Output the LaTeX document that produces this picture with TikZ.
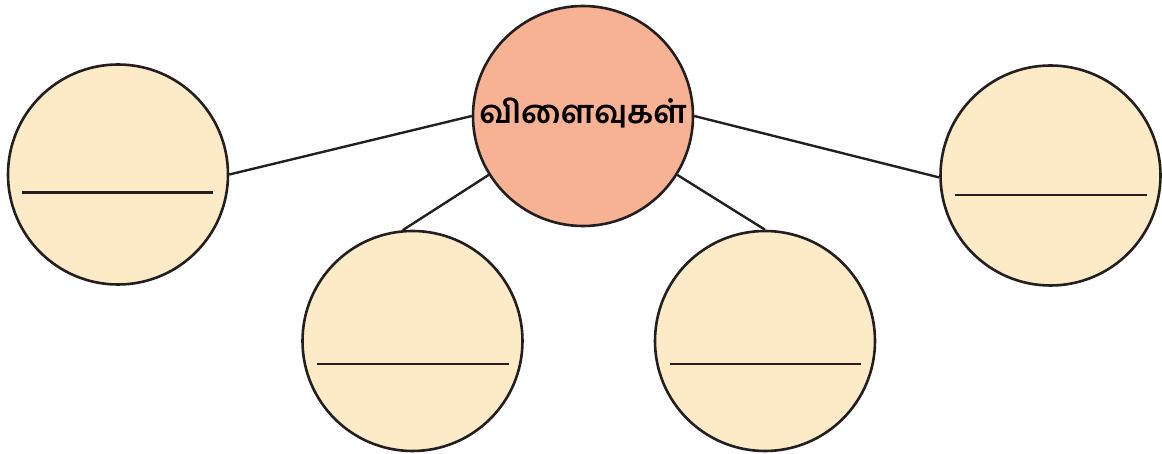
\documentclass[tikz,border=0pt]{standalone}
\usepackage{fontspec}
\newfontfamily\tamilfont[Script=Tamil]{Hind Madurai}
\definecolor{ringfill}{HTML}{FDEAC6}
\definecolor{hubfill}{HTML}{F7B294}
\definecolor{inkline}{HTML}{231F20}

\begin{document}
\begin{tikzpicture}[x=1pt, y=-1pt,
    bubble/.style={circle, draw=inkline, line width=2.6pt, fill=ringfill,
                   minimum size=220pt, inner sep=0pt},
    hub/.style={bubble, fill=hubfill},
    blank/.style={draw=inkline, line width=2.8pt},
    link/.style={draw=inkline, line width=2.4pt}]

        \useasboundingbox (0,0) rectangle (1162,454);

        % centre
        \node[hub] (effects) at (583,116) {};
        \node[font=\tamilfont\bfseries\fontsize{32}{36}\selectfont, inner sep=0pt]
            (effectstext) at ([yshift=3pt]effects.center) {விளைவுகள்};

        % outer circles
        \node[bubble] (left)   at (118,174.5) {};
        \node[bubble] (right)  at (1050.5,175.5) {};
        \node[bubble] (lowl)   at (412.5,341) {};
        \node[bubble] (lowr)   at (765,341) {};

        % connectors
        \draw[link] (effects.180) -- (left.0);
        \draw[link] (effects.0) -- (right.181);
        \draw[link] (effects.212) -- (lowl.95);
        \draw[link] (effects.-32) -- (lowr.90);

        % writing lines
        \draw[blank] ([xshift=-96pt,yshift=-18pt]left.center) -- ([xshift=95pt,yshift=-18pt]left.center);
        \draw[blank] ([xshift=-96pt,yshift=-19.5pt]right.center) -- ([xshift=96pt,yshift=-19.5pt]right.center);
        \draw[blank] ([xshift=-96pt,yshift=-23pt]lowl.center) -- ([xshift=96pt,yshift=-23pt]lowl.center);
        \draw[blank] ([xshift=-95pt,yshift=-23pt]lowr.center) -- ([xshift=96pt,yshift=-23pt]lowr.center);

\end{tikzpicture}
\end{document}
